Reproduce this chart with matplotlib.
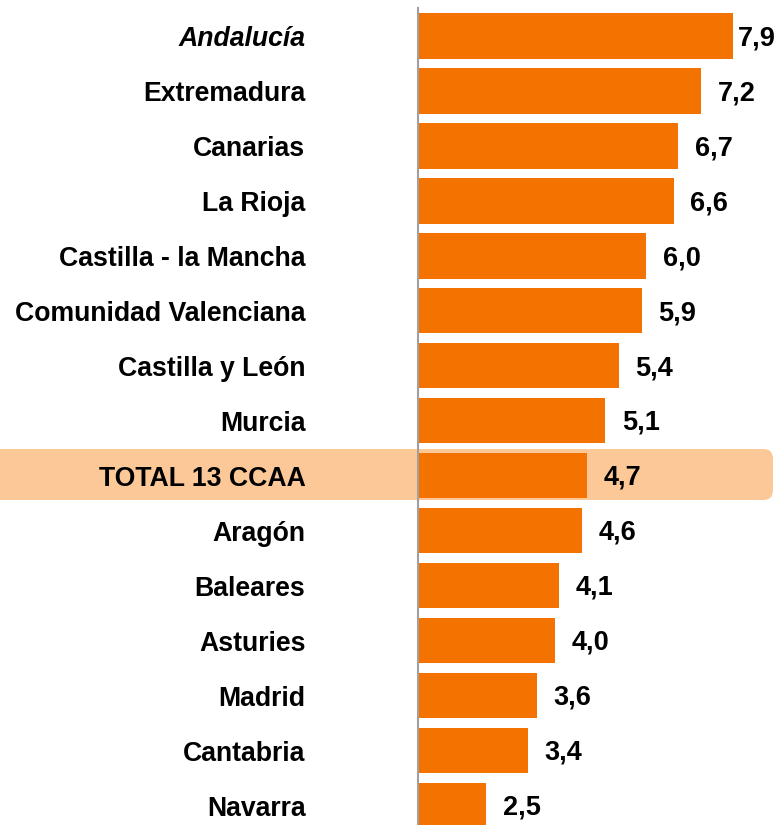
import numpy as np
import matplotlib
matplotlib.use('Agg')
import matplotlib.pyplot as plt
from matplotlib.patches import FancyBboxPatch

#-------------------------------- DATA -------------------------------------
regions = ['Andalucía', 'Extremadura', 'Canarias', 'La Rioja', 'Castilla - la Mancha',
           'Comunidad Valenciana', 'Castilla y León', 'Murcia', 'TOTAL 13 CCAA', 'Aragón',
           'Baleares', 'Asturies', 'Madrid', 'Cantabria', 'Navarra']
values = [7.9, 7.2, 6.7, 6.6, 6.0, 5.9, 5.4, 5.1, 4.7, 4.6, 4.1, 4.0, 3.6, 3.4, 2.5]
labels = ['7,9', '7,2', '6,7', '6,6', '6,0', '5,9', '5,4', '5,1', '4,7', '4,6',
          '4,1', '4,0', '3,6', '3,4', '2,5']

plt.rcParams['font.family'] = ['Liberation Sans', 'DejaVu Sans']

W, H = 783, 825
fig = plt.figure(figsize=(W / 100, H / 100), dpi=100)
ax = fig.add_axes([418 / W, 0, 1 - 418 / W, (H - 8) / H])

#-------------------------------- HIGHLIGHT ROW ----------------------------
hl = FancyBboxPatch((-10 / W, (H - 500) / H), 783 / W, 51 / H,
                    boxstyle='round,pad=0,rounding_size=0.012',
                    transform=fig.transFigure, facecolor='#FDC897',
                    edgecolor='none', zorder=0, clip_on=False)
ax.add_patch(hl)

#-------------------------------- BARS -------------------------------------
y = np.arange(len(regions))
ax.barh(y, np.array(values) - 1.0, left=1.0, height=0.82, color='#F47300', zorder=2)
ax.set_xlim(1.0, 9.0)
ax.set_ylim(14.35, -0.51)
ax.patch.set_alpha(0)

for yi, v, lab in zip(y, values, labels):
    off = 4 if v > 7.5 else 12
    ax.annotate(lab, (v, yi), xytext=(off, -1.5), textcoords='offset points',
                ha='left', va='center', fontsize=19.5, fontweight='bold',
                annotation_clip=False, zorder=4)

ax.set_yticks(y)
ax.set_yticklabels(regions, fontsize=19.2, fontweight='bold')
ax.tick_params(axis='y', length=0, pad=81)
ax.get_yticklabels()[0].set_fontstyle('italic')
ax.set_xticks([])

for s in ['top', 'right', 'bottom']:
    ax.spines[s].set_visible(False)
ax.spines['left'].set_color('#A0A0A0')
ax.spines['left'].set_linewidth(1.5)
ax.spines['left'].set_zorder(3)

plt.savefig('out.png', dpi=100)
